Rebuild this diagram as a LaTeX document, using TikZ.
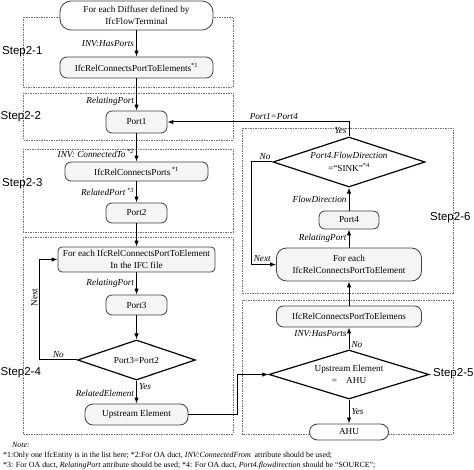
\documentclass[tikz,border=0pt]{standalone}
\usepackage{fontspec}
\setmainfont{Liberation Serif}
\newfontfamily\stepfont{Liberation Sans}
\usetikzlibrary{shapes.geometric,arrows.meta}

\begin{document}
\begin{tikzpicture}[x=1pt, y=-1pt, >={Latex[length=6pt,width=4.5pt]},
  box/.style={draw=black!75, line width=0.8pt, fill=gray!8, rounded corners=6pt, inner sep=0pt, align=center, font=\fontsize{9.2}{12.5}\selectfont},
  decision/.style={draw, diamond, aspect=3, line width=1.2pt, fill=white, inner sep=0pt, align=center, font=\fontsize{9.2}{12.5}\selectfont},
  lbl/.style={inner sep=2pt, font=\fontsize{9.2}{11}\selectfont\itshape},
  stepframe/.style={draw=black!55, line width=0.6pt, dash pattern=on 1.5pt off 1pt},
  steplabel/.style={inner sep=0pt, anchor=west, font=\stepfont\fontsize{11.5}{13}\selectfont},
  notetext/.style={inner sep=0pt, anchor=west, font=\fontsize{7.9}{10}\selectfont},
  flow/.style={->, line width=1pt}]
  \useasboundingbox (0,0) rectangle (474,470);

  % Steps
  \draw[stepframe] (23,17) rectangle (233,87);
  \draw[stepframe] (23,93) rectangle (233,140);
  \draw[stepframe] (23,149) rectangle (233,232);
  \draw[stepframe] (23,237) rectangle (233,434);
  \draw[stepframe] (242,128) rectangle (453,293);
  \draw[stepframe] (242,300) rectangle (453,434);

  \node[steplabel] (step1) at (2,52) {Step2-1};
  \node[steplabel] (step2) at (0.5,117) {Step2-2};
  \node[steplabel] (step3) at (2,184) {Step2-3};
  \node[steplabel] (step4) at (0.5,373) {Step2-4};
  \node[steplabel] (step6) at (430,218) {Step2-6};
  \node[steplabel] (step5) at (433,374) {Step2-5};

  % Left column
  \node[box, minimum width=153, minimum height=29, rounded corners=11pt, fill=white] (diffuser) at (136.5,15.5) {For each Diffuser defined by\\IfcFlowTerminal};
  \node[box, minimum width=153, minimum height=21, rounded corners=7pt] (relelem) at (136.5,67.5) {IfcRelConnectsPortToElements\textsuperscript{*1}};
  \node[box, minimum width=61, minimum height=22] (port1) at (136.5,122) {Port1};
  \node[box, minimum width=143, minimum height=19] (relports) at (136.5,171.5) {IfcRelConnectsPorts\,\textsuperscript{*1}};
  \node[box, minimum width=61, minimum height=20] (port2) at (136.5,213) {Port2};
  \node[box, minimum width=157, minimum height=25, rounded corners=4pt] (foreach1) at (136.5,259.5) {For each IfcRelConnectsPortToElement\\In the IFC file};
  \node[box, minimum width=61, minimum height=20] (port3) at (136.5,305) {Port3};
  \node[decision, minimum width=118, minimum height=40] (match) at (136.5,360) {Port3=Port2};
  \node[box, minimum width=103, minimum height=21, rounded corners=8pt] (upstream) at (136.5,414.5) {Upstream Element};

  % Right column
  \node[decision, minimum width=152, minimum height=50] (sink) at (349,162) {\textit{Port4.FlowDirection}\\=“SINK”\textsuperscript{*4}};
  \node[box, minimum width=60, minimum height=18] (port4) at (349,220) {Port4};
  \node[box, minimum width=145, minimum height=33, rounded corners=10pt] (foreach2) at (349,264.5) {For each\\IfcRelConnectsPortToElement};
  \node[box, minimum width=145, minimum height=21, rounded corners=7pt] (relelems) at (349,316.5) {IfcRelConnectsPortToElemens};
  \node[decision, minimum width=160, minimum height=49] (ahucheck) at (349,374.5) {Upstream Element\\=\quad AHU};
  \node[box, minimum width=79, minimum height=16, rounded corners=8pt, fill=white] (ahu) at (349,432) {AHU};

  \draw[flow] (diffuser) -- node[lbl, left] {INV:HasPorts} (relelem);
  \draw[flow] (relelem) -- node[lbl, left, pos=0.7] {RelatingPort} (port1);
  \draw[flow] (port1) -- node[lbl, left, pos=0.7] {INV: ConnectedTo\,\textsuperscript{*2}} (relports);
  \draw[flow] (relports) -- node[lbl, left] {RelatedPort\,\textsuperscript{*3}} (port2);
  \draw[flow] (port2) -- (foreach1);
  \draw[flow] (foreach1) -- node[lbl, left] {RelatingPort} (port3);
  \draw[flow] (port3) -- (match);
  \draw[flow] (match) -- node[lbl, right, pos=0.25] {Yes} node[lbl, left, pos=0.55] {RelatedElement} (upstream);
  \draw[flow] (match.west) -- node[lbl, above] {No} ++(-37,0) |- node[above, sloped, pos=0.31, inner sep=2pt, font=\fontsize{9.2}{11}\selectfont] {Next} (foreach1.west);

  \draw[flow] (upstream.east) -- ++(49,0) |- (ahucheck.west);
  \draw[flow] (ahucheck) -- node[lbl, left, pos=0.7] {INV:HasPorts} node[lbl, right, pos=0.2] {No} (relelems);
  \draw[flow] (ahucheck) -- node[lbl, right] {Yes} (ahu);
  \draw[flow] (relelems) -- (foreach2);
  \draw[flow] (foreach2) -- node[lbl, left] {RelatingPort} (port4);
  \draw[flow] (port4) -- node[lbl, left] {FlowDirection} (sink);
  \draw[flow] (sink.west) -- node[lbl, above, pos=0.35] {No} ++(-21,0) |- node[lbl, above, pos=0.72] {Next} (foreach2.west);
  \draw[flow] (sink.north) |- node[lbl, left, pos=0.2] {Yes} node[lbl, above, pos=0.707] {Port1=Port4} (port1.east);

  % Note
  \node[notetext, font=\fontsize{7.9}{10}\selectfont\itshape] (note) at (12,445) {Note:};
  \node[notetext] (note1) at (3,455.5) {*1:Only one IfcEntity is in the list here; *2:For OA duct, \textit{INV:ConnectedFrom}~ attribute should be used;};
  \node[notetext] (note2) at (3,466) {*3: For OA duct, \textit{RelatingPort} attribute should be used; *4: For OA duct, \textit{Port4.flowdirection} should be “SOURCE”;};
\end{tikzpicture}
\end{document}
